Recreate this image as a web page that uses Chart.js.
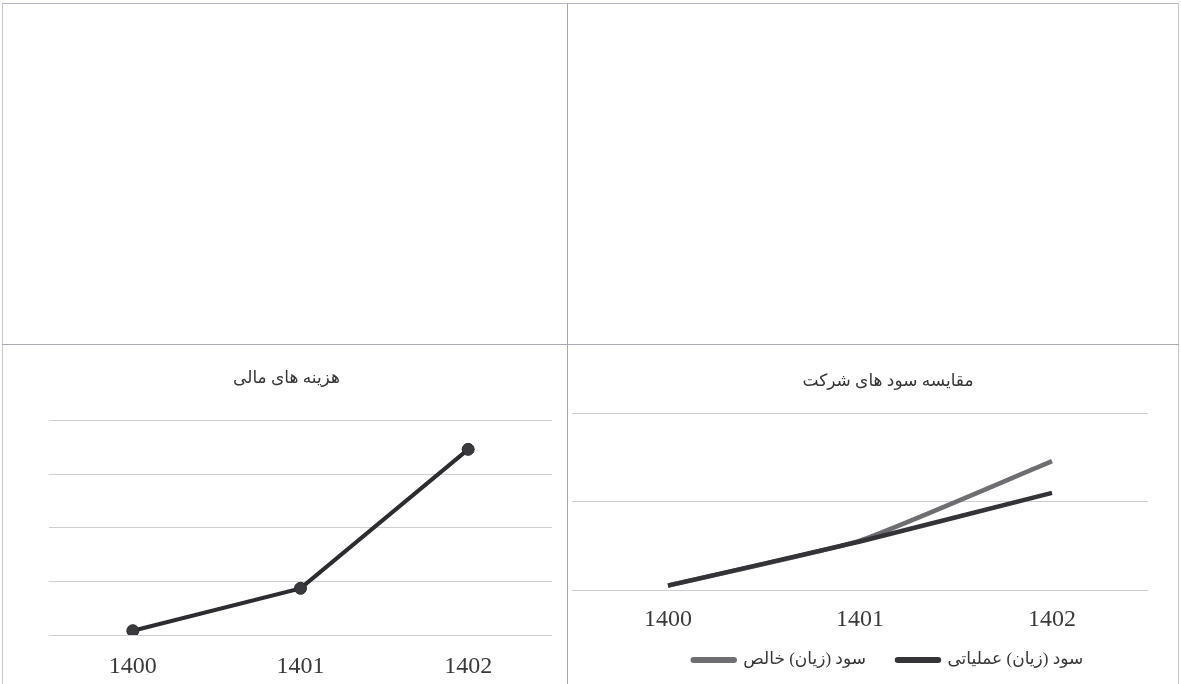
<!DOCTYPE html>
<html>
<head>
<meta charset="utf-8">
<script src="https://cdn.jsdelivr.net/npm/chart.js@4/dist/chart.umd.min.js"></script>
<style>
  body { margin: 0; background: #fff; width: 1181px; height: 684px; overflow: hidden; position: relative; }
  .cell { position: absolute; box-sizing: border-box; }
  .box { position: absolute; }
</style>
</head>
<body>
<!-- table grid lines -->
<div class="cell" style="left:2px; top:3px; width:1177px; height:681px; border-top:1px solid #b8b8c4; border-left:1px solid #c8c8d0; border-right:1px solid #c8c8d0;"></div>
<div class="cell" style="left:567px; top:3px; width:1px; height:681px; background:#a8a8b4;"></div>
<div class="cell" style="left:2px; top:344px; width:1177px; height:1px; background:#a8a8b4;"></div>

<div class="box" style="left:5px; top:345px; width:563px; height:346px;"><canvas id="chartCosts"></canvas></div>
<div class="box" style="left:568px; top:345px; width:640px; height:355px;"><canvas id="chartProfit"></canvas></div>

<script>
var years = ['1400', '1401', '1402'];
var financeCosts = [0.08, 0.87, 3.46];
var operatingProfit = [0.05, 0.55, 1.10];
var netProfit = [0.05, 0.56, 1.46];

var serif = "'Liberation Serif', 'DejaVu Sans', serif";

// legend sits closer to the axis labels than chart.js would put it
var liftLegend = {
  id: 'liftLegend',
  afterLayout: function(chart) {
    chart.legend.top -= 21.5;
    chart.legend.bottom -= 21.5;
  }
};

var ctx = document.getElementById('chartCosts').getContext('2d');
var chartCosts = new Chart(ctx, {
    type: 'line',
    data: {
        labels: years,
        datasets: [{
            label: 'هزینه های مالی',
            data: financeCosts,
            borderColor: '#2d2d31',
            backgroundColor: '#3a3a3e',
            borderWidth: 4,
            pointRadius: 6,
            pointBorderWidth: 1,
            pointBorderColor: '#2a2a2e',
            tension: 0
        }]
    },
    options: {
      responsive: true,
      maintainAspectRatio: false,
      animation: false,
      layout: { padding: 0 },
      plugins: {
        legend: { display: false },
        title: {
          display: true,
          text: 'هزینه های مالی',
          color: '#363636',
          font: { family: serif, size: 17, weight: 'normal' },
          padding: { top: 23, bottom: 32 }
        },
        tooltip: { enabled: false }
      },
      scales: {
        x: {
          offset: true,
          grid: { display: false },
          border: { display: false },
          ticks: { color: '#3a3a3a', padding: 9.6, font: { family: serif, size: 24 } }
        },
        y: {
          min: 0,
          max: 4,
          afterFit: function(scale) { scale.width = 44; },
          ticks: { display: false, stepSize: 1 },
          border: { display: false },
          grid: { color: '#cdcdd3', lineWidth: 1, drawTicks: false }
        },
        yRight: {
          position: 'right',
          display: true,
          afterFit: function(scale) { scale.width = 16; },
          ticks: { display: false },
          border: { display: false },
          grid: { display: false, drawTicks: false }
        }
      }
    }
});

var ctx = document.getElementById('chartProfit').getContext('2d');
var chartProfit = new Chart(ctx, {
    type: 'line',
    data: {
        labels: years,
        datasets: [{
            label: 'سود (زیان) عملیاتی',
            data: operatingProfit,
            borderColor: '#333338',
            backgroundColor: '#333338',
            borderWidth: 4.5,
            pointRadius: 0,
            tension: 0.15
        }, {
            label: 'سود (زیان) خالص',
            data: netProfit,
            borderColor: '#6d6d72',
            backgroundColor: '#4a4a4f',
            borderWidth: 4.5,
            pointRadius: 0,
            tension: 0.15
        }]
    },
    options: {
      responsive: true,
      maintainAspectRatio: false,
      animation: false,
      layout: { padding: 0 },
      plugins: {
        legend: {
          position: 'bottom',
          reverse: true,
          labels: {
            color: '#363636',
            boxWidth: 42,
            boxHeight: 1.5,
            useBorderRadius: true,
            borderRadius: 1,
            padding: 31,
            font: { family: serif, size: 17 }
          }
        },
        title: {
          display: true,
          text: 'مقایسه سود های شرکت',
          color: '#363636',
          font: { family: serif, size: 17, weight: 'normal' },
          padding: { top: 26, bottom: 22 }
        },
        tooltip: { enabled: false }
      },
      scales: {
        x: {
          offset: true,
          grid: { display: false },
          border: { display: false },
          ticks: { color: '#3a3a3a', padding: 7.6, font: { family: serif, size: 24 } }
        },
        y: {
          min: 0,
          max: 2,
          afterFit: function(scale) { scale.width = 4; },
          ticks: { display: false, stepSize: 1 },
          border: { display: false },
          grid: { color: '#cdcdd3', lineWidth: 1, drawTicks: false }
        },
        yRight: {
          position: 'right',
          display: true,
          afterFit: function(scale) { scale.width = 60; },
          ticks: { display: false },
          border: { display: false },
          grid: { display: false, drawTicks: false }
        }
      }
    },
    plugins: [liftLegend]
});
</script>
</body>
</html>
